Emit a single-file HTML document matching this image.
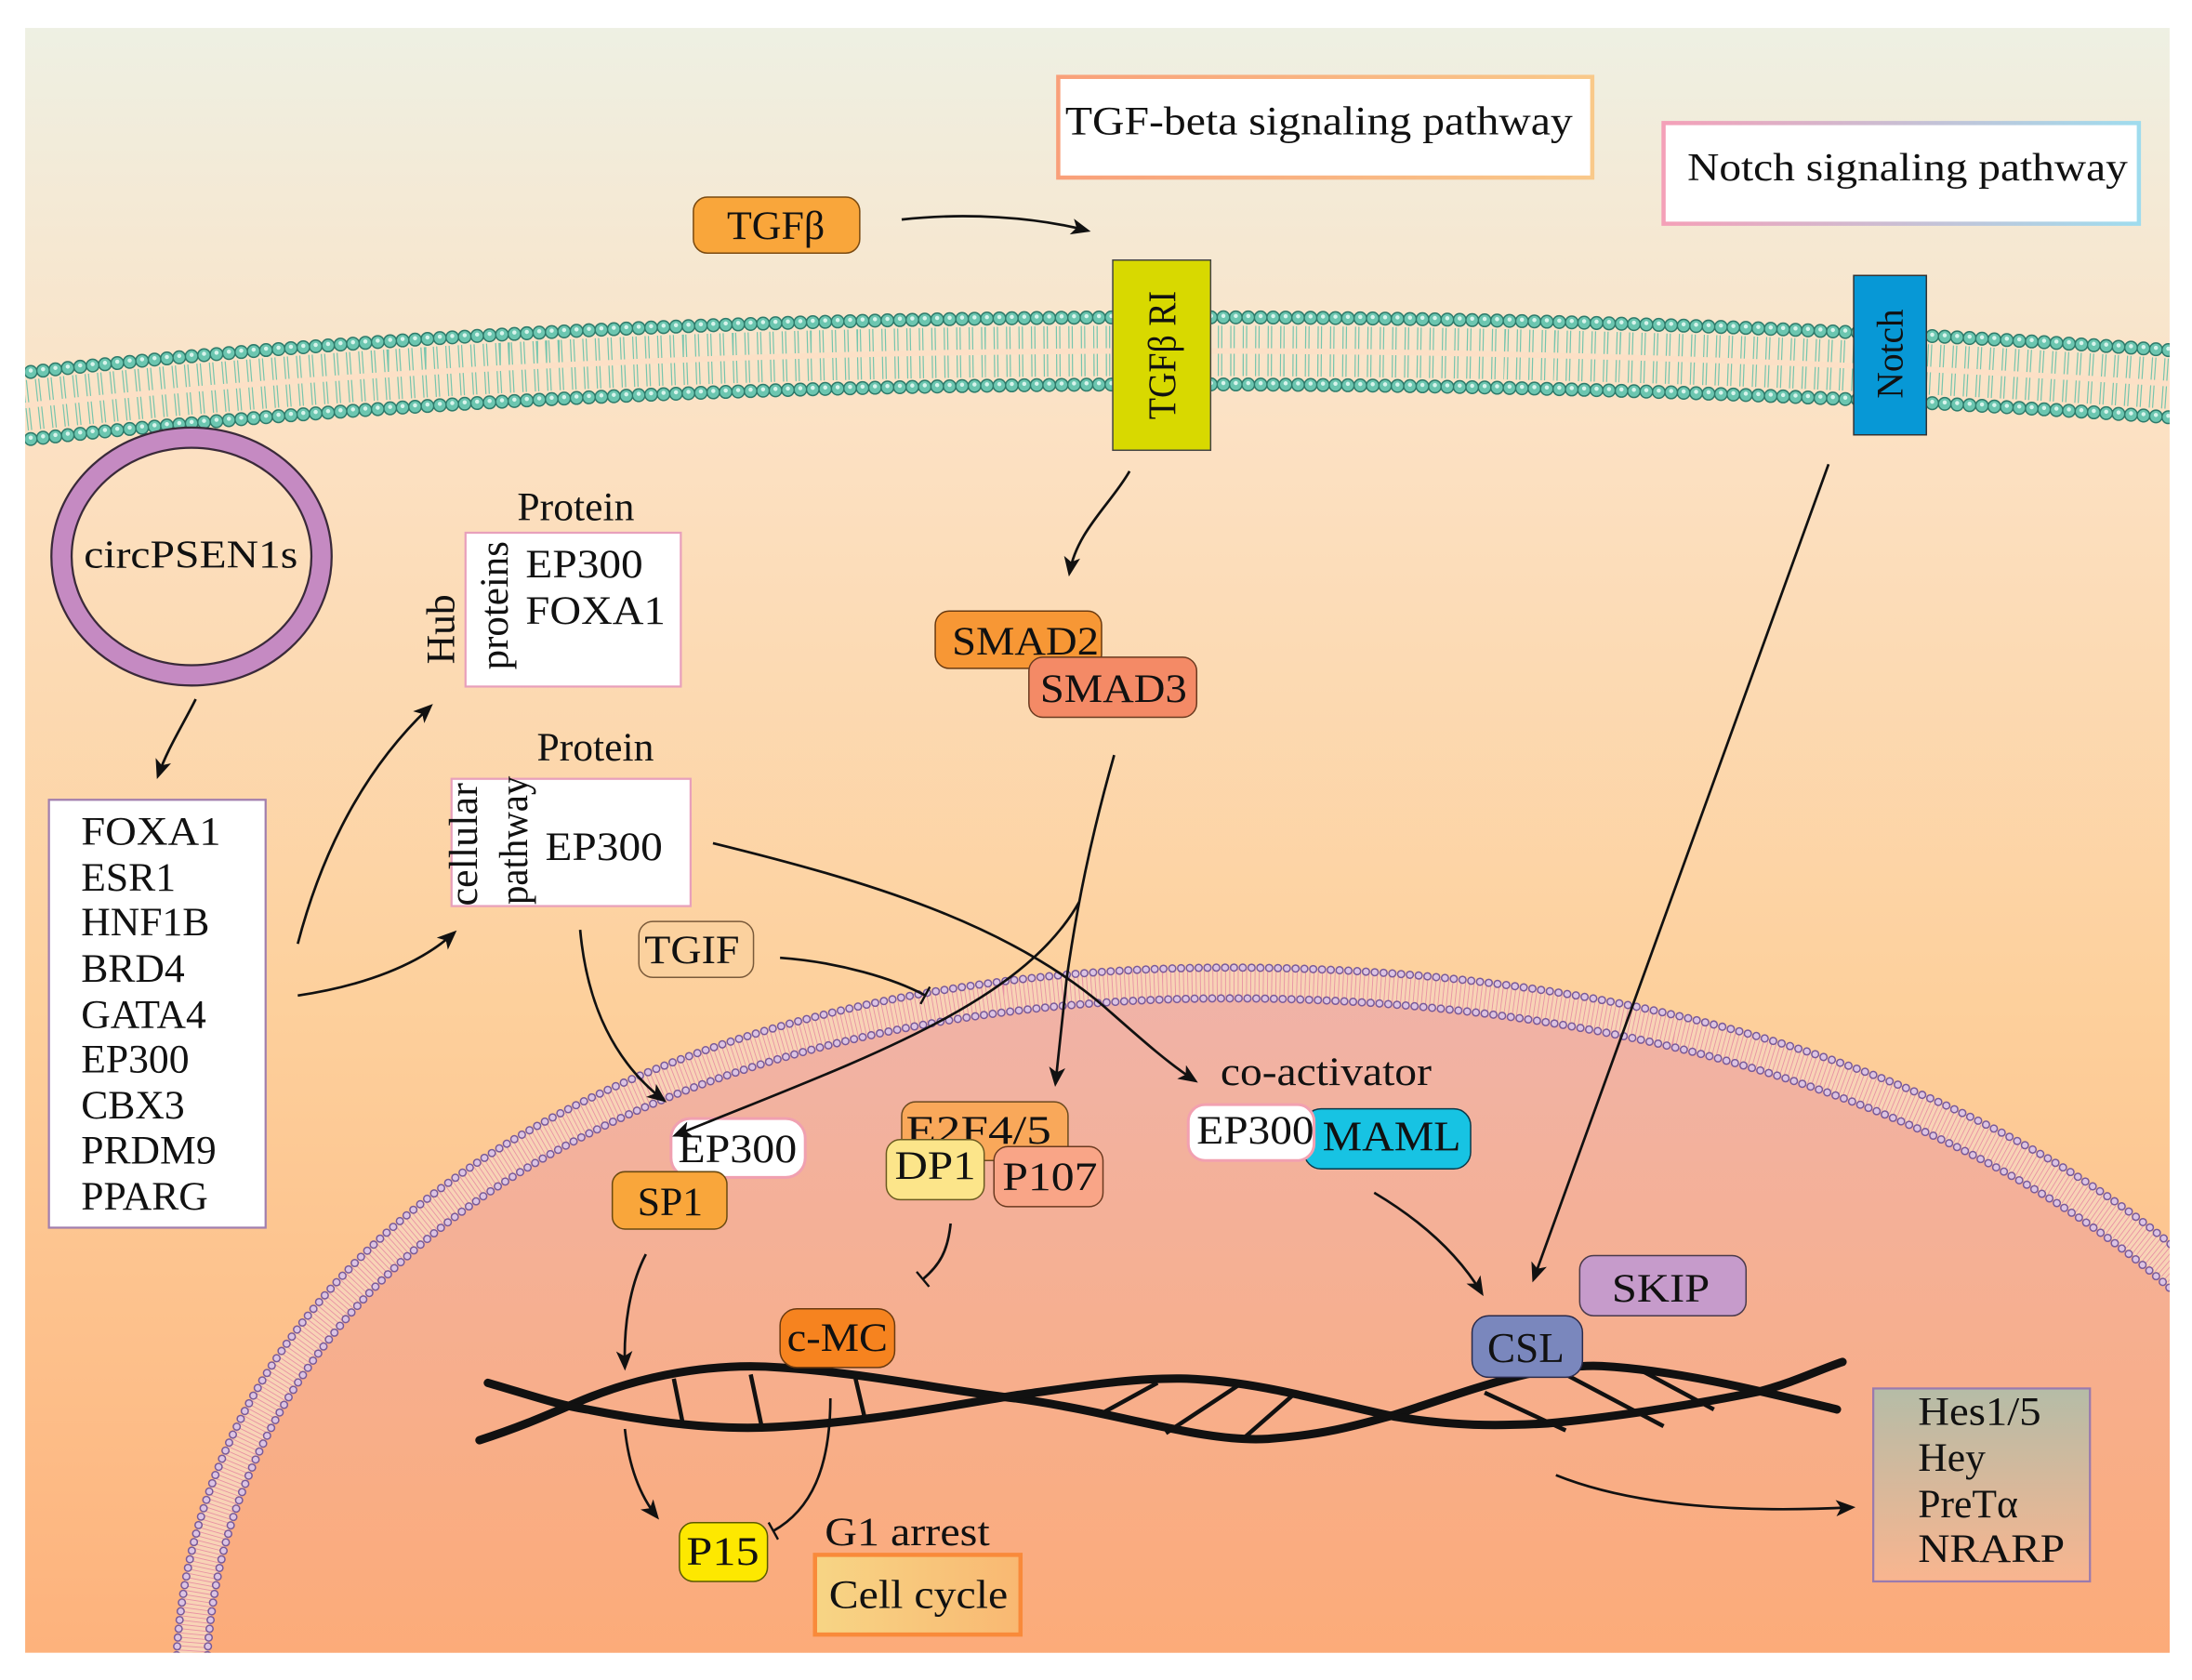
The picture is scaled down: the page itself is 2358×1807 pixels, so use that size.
<!DOCTYPE html>
<html><head><meta charset="utf-8">
<style>
html,body{margin:0;padding:0;background:#fff;}
svg{display:block;}
text{font-family:"Liberation Serif",serif;fill:#111;}
</style></head>
<body>
<svg width="2358" height="1807" viewBox="0 0 1568 1201.5" preserveAspectRatio="none" xmlns="http://www.w3.org/2000/svg">
<defs>
<clipPath id="panel"><rect x="18" y="20" width="1534" height="1162"/></clipPath>
<linearGradient id="bg" x1="0" y1="0" x2="0" y2="1">
<stop offset="0" stop-color="#eef0e3"/>
<stop offset="0.25" stop-color="#fce1c3"/>
<stop offset="0.6" stop-color="#fdd09c"/>
<stop offset="1" stop-color="#fdb27c"/>
</linearGradient>
<linearGradient id="nuc" x1="0" y1="0" x2="0" y2="1">
<stop offset="0" stop-color="#f0b3a8"/>
<stop offset="1" stop-color="#fcab78"/>
</linearGradient>
<linearGradient id="tgfb" x1="0" y1="0" x2="1" y2="0">
<stop offset="0" stop-color="#f9a07a"/><stop offset="1" stop-color="#f9c98a"/>
</linearGradient>
<linearGradient id="notb" x1="0" y1="0" x2="1" y2="0">
<stop offset="0" stop-color="#f4a0b8"/><stop offset="1" stop-color="#9fdcee"/>
</linearGradient>
<linearGradient id="hes" x1="0" y1="0" x2="0" y2="1">
<stop offset="0" stop-color="#b5bca7"/><stop offset="1" stop-color="#f9b58f"/>
</linearGradient>
<linearGradient id="cc" x1="0" y1="0" x2="1" y2="0">
<stop offset="0" stop-color="#f7d585"/><stop offset="1" stop-color="#f9b872"/>
</linearGradient>
<marker id="ar" viewBox="0 0 12 10" refX="10" refY="5" markerWidth="14" markerHeight="12" markerUnits="userSpaceOnUse" orient="auto">
<path d="M0,0 L12,5 L0,10 L3,5 Z" fill="#111"/>
</marker>
<marker id="bar" viewBox="0 0 4 14" refX="2" refY="7" markerWidth="4" markerHeight="14" markerUnits="userSpaceOnUse" orient="auto">
<rect x="1" y="0" width="1.6" height="14" fill="#111"/>
</marker>
</defs>

<rect x="18" y="20" width="1534" height="1162" fill="url(#bg)"/>

<g clip-path="url(#panel)">
<!-- cell membrane -->
<g fill="none">
<path d="M18,290 C500,238 1100,243 1560,275" stroke="#5fbfa8" stroke-width="36" stroke-dasharray="0.8 1.6 0.8 5.7" opacity="0.85"/>
<path d="M18,290 C500,238 1100,243 1560,275" stroke="#fce0c6" stroke-width="4"/>
<g transform="translate(0,-24)">
<path d="M22,290 C500,238 1100,243 1560,275" stroke="#2d7a6a" stroke-width="10" stroke-linecap="round" stroke-dasharray="0 8.9"/>
<path d="M22,290 C500,238 1100,243 1560,275" stroke="#6cc6b0" stroke-width="8" stroke-linecap="round" stroke-dasharray="0 8.9"/>
<path d="M22,289 C500,237 1100,242 1560,274" stroke="#d8f4ec" stroke-width="3" stroke-linecap="round" stroke-dasharray="0 8.9"/>
</g>
<g transform="translate(0,24)">
<path d="M22,290 C500,238 1100,243 1560,275" stroke="#2d7a6a" stroke-width="10" stroke-linecap="round" stroke-dasharray="0 8.9"/>
<path d="M22,290 C500,238 1100,243 1560,275" stroke="#6cc6b0" stroke-width="8" stroke-linecap="round" stroke-dasharray="0 8.9"/>
<path d="M22,289 C500,237 1100,242 1560,274" stroke="#d8f4ec" stroke-width="3" stroke-linecap="round" stroke-dasharray="0 8.9"/>
</g>
</g>

<!-- nucleus -->
<path d="M137,1190 C150,900 450,703 880,703 C1150,703 1400,770 1560,912 L1560,1190 Z" fill="url(#nuc)"/>
<g fill="none">
<path d="M137,1190 C150,900 450,703 880,703 C1150,703 1400,770 1560,912" stroke="#f8d3b6" stroke-width="22"/>
<path d="M137,1190 C150,900 450,703 880,703 C1150,703 1400,770 1560,912" stroke="#e892a4" stroke-width="20" stroke-dasharray="0.6 2.4"/>
<path d="M126,1190 C139,892 445,692 880,692 C1152,692 1405,759 1567,902" stroke="#7a5a98" stroke-width="6" stroke-linecap="round" stroke-dasharray="0 6.3"/>
<path d="M126,1190 C139,892 445,692 880,692 C1152,692 1405,759 1567,902" stroke="#dcc4e4" stroke-width="4" stroke-linecap="round" stroke-dasharray="0 6.3"/>
<path d="M148,1190 C161,908 455,714 880,714 C1148,714 1395,781 1553,922" stroke="#7a5a98" stroke-width="6" stroke-linecap="round" stroke-dasharray="0 6.3"/>
<path d="M148,1190 C161,908 455,714 880,714 C1148,714 1395,781 1553,922" stroke="#dcc4e4" stroke-width="4" stroke-linecap="round" stroke-dasharray="0 6.3"/>
</g>
</g>

<!-- pathway boxes -->
<rect x="757" y="55" width="382" height="72" fill="#fff" stroke="url(#tgfb)" stroke-width="3"/>
<text x="762" y="96" font-size="29" textLength="363" lengthAdjust="spacingAndGlyphs">TGF-beta signaling pathway</text>
<rect x="1190" y="88" width="340" height="72" fill="#fff" stroke="url(#notb)" stroke-width="3"/>
<text x="1207" y="129" font-size="28" textLength="315" lengthAdjust="spacingAndGlyphs">Notch signaling pathway</text>

<rect x="496" y="141" width="119" height="40" rx="10" fill="#f9a63b" stroke="#7a4a10" stroke-width="1"/>
<text x="520" y="171" font-size="29" textLength="70" lengthAdjust="spacingAndGlyphs">TGFβ</text>

<rect x="796" y="186" width="70" height="136" fill="#d8d900" stroke="#444" stroke-width="1"/>
<text transform="translate(841,300) rotate(-90)" font-size="28" textLength="92" lengthAdjust="spacingAndGlyphs">TGFβ RI</text>
<rect x="1326" y="197" width="52" height="114" fill="#0798d6" stroke="#333" stroke-width="1"/>
<text transform="translate(1361,285) rotate(-90)" font-size="27" textLength="64" lengthAdjust="spacingAndGlyphs">Notch</text>

<!-- circ -->
<ellipse cx="137" cy="398" rx="93" ry="85" fill="none" stroke="#3a2a3a" stroke-width="16"/>
<ellipse cx="137" cy="398" rx="93" ry="85" fill="none" stroke="#c58ac2" stroke-width="13"/>
<text x="60" y="406" font-size="28" textLength="153" lengthAdjust="spacingAndGlyphs">circPSEN1s</text>

<!-- gene list -->
<rect x="35" y="572" width="155" height="306" fill="#fff" stroke="#a27fae" stroke-width="1.5"/>
<g font-size="29">
<text x="58" y="604" textLength="100" lengthAdjust="spacingAndGlyphs">FOXA1</text>
<text x="58" y="637">ESR1</text>
<text x="58" y="669">HNF1B</text>
<text x="58" y="702">BRD4</text>
<text x="58" y="735">GATA4</text>
<text x="58" y="767">EP300</text>
<text x="58" y="800">CBX3</text>
<text x="58" y="832">PRDM9</text>
<text x="58" y="865">PPARG</text>
</g>

<!-- hub proteins -->
<text x="370" y="372" font-size="29">Protein</text>
<rect x="333" y="381" width="154" height="110" fill="#fff" stroke="#e8a0bb" stroke-width="1.5"/>
<text transform="translate(325,475) rotate(-90)" font-size="29">Hub</text>
<text transform="translate(363,479) rotate(-90)" font-size="29" textLength="92" lengthAdjust="spacingAndGlyphs">proteins</text>
<text x="376" y="413" font-size="29" textLength="84" lengthAdjust="spacingAndGlyphs">EP300</text>
<text x="376" y="446" font-size="29" textLength="100" lengthAdjust="spacingAndGlyphs">FOXA1</text>

<text x="384" y="544" font-size="29">Protein</text>
<rect x="323" y="557" width="171" height="91" fill="#fff" stroke="#e8a0bb" stroke-width="1.5"/>
<text transform="translate(341,648) rotate(-90)" font-size="29" textLength="88" lengthAdjust="spacingAndGlyphs">cellular</text>
<text transform="translate(377,647) rotate(-90)" font-size="29" textLength="92" lengthAdjust="spacingAndGlyphs">pathway</text>
<text x="390" y="615" font-size="29" textLength="84" lengthAdjust="spacingAndGlyphs">EP300</text>

<rect x="457" y="659" width="82" height="40" rx="10" fill="#fbd19e" stroke="#7a5a3a" stroke-width="1"/>
<text x="461" y="689" font-size="29" textLength="68" lengthAdjust="spacingAndGlyphs">TGIF</text>

<!-- SMADs -->
<rect x="669" y="437" width="119" height="41" rx="10" fill="#f79735" stroke="#6a3a10" stroke-width="1"/>
<text x="681" y="468" font-size="29" textLength="105" lengthAdjust="spacingAndGlyphs">SMAD2</text>
<rect x="736" y="470" width="120" height="43" rx="10" fill="#f48a66" stroke="#6a3a20" stroke-width="1"/>
<text x="744" y="502" font-size="29" textLength="105" lengthAdjust="spacingAndGlyphs">SMAD3</text>

<!-- DNA -->
<g fill="none" stroke="#111" stroke-width="6" stroke-linecap="round">
<path d="M343,1030 C380,1018 400,1008 420,1000 C470,980 520,975 558,978 C620,982 680,995 726,1000 C800,1010 860,1032 907,1029 C950,1026 975,1018 997,1012 C1050,995 1100,975 1146,977 C1200,980 1260,995 1314,1008"/>
<path d="M349,989 C380,998 400,1005 420,1008 C470,1018 510,1022 545,1021 C620,1018 680,1005 726,998 C770,992 810,985 849,986 C900,988 950,1003 997,1013 C1040,1020 1070,1020 1107,1018 C1160,1013 1220,1003 1259,995 C1285,988 1300,980 1318,974"/>
</g>
<g stroke="#111" stroke-width="3">
<line x1="482" y1="986" x2="488" y2="1016"/>
<line x1="537" y1="983" x2="545" y2="1021"/>
<line x1="612" y1="986" x2="619" y2="1016"/>
<line x1="786" y1="1012" x2="828" y2="989"/>
<line x1="834" y1="1025" x2="887" y2="990"/>
<line x1="888" y1="1030" x2="928" y2="995"/>
<line x1="1062" y1="996" x2="1120" y2="1023"/>
<line x1="1120" y1="983" x2="1190" y2="1020"/>
<line x1="1170" y1="978" x2="1226" y2="1008"/>
</g>

<!-- nucleus proteins -->
<rect x="480" y="800" width="96" height="42" rx="14" fill="#fff" stroke="#f0a0b0" stroke-width="2"/>
<text x="485" y="831" font-size="29" textLength="85" lengthAdjust="spacingAndGlyphs">EP300</text>
<rect x="438" y="838" width="82" height="41" rx="9" fill="#f9a63b" stroke="#6a4a10" stroke-width="1"/>
<text x="456" y="869" font-size="29">SP1</text>

<rect x="645" y="788" width="119" height="42" rx="10" fill="#f9a85a" stroke="#6a4a20" stroke-width="1"/>
<text x="648" y="818" font-size="29" textLength="104" lengthAdjust="spacingAndGlyphs">E2F4/5</text>
<rect x="711" y="820" width="78" height="43" rx="10" fill="#f9a587" stroke="#6a3a20" stroke-width="1"/>
<text x="717" y="851" font-size="29" textLength="68" lengthAdjust="spacingAndGlyphs">P107</text>
<rect x="634" y="815" width="70" height="43" rx="10" fill="#fce58a" stroke="#6a5a20" stroke-width="1"/>
<text x="640" y="843" font-size="29" textLength="58" lengthAdjust="spacingAndGlyphs">DP1</text>

<text x="873" y="776" font-size="29" textLength="151" lengthAdjust="spacingAndGlyphs">co-activator</text>
<rect x="933" y="793" width="119" height="43" rx="12" fill="#17c3e3" stroke="#0a3a4a" stroke-width="1"/>
<text x="946" y="823" font-size="30" textLength="99" lengthAdjust="spacingAndGlyphs">MAML</text>
<rect x="850" y="790" width="90" height="40" rx="12" fill="#fff" stroke="#f2a0b0" stroke-width="2"/>
<text x="856" y="818" font-size="29" textLength="84" lengthAdjust="spacingAndGlyphs">EP300</text>

<rect x="1130" y="898" width="119" height="43" rx="10" fill="#c69bcb" stroke="#4a3a4a" stroke-width="1"/>
<text x="1153" y="931" font-size="29" textLength="70" lengthAdjust="spacingAndGlyphs">SKIP</text>
<rect x="1053" y="941" width="79" height="44" rx="12" fill="#7a87bd" stroke="#2a2a4a" stroke-width="1"/>
<text x="1064" y="974" font-size="30" textLength="55" lengthAdjust="spacingAndGlyphs">CSL</text>

<rect x="558" y="936" width="82" height="42" rx="12" fill="#f6831f" stroke="#6a3a10" stroke-width="1"/>
<text x="563" y="966" font-size="29" textLength="72" lengthAdjust="spacingAndGlyphs">c-MC</text>

<rect x="486" y="1089" width="63" height="42" rx="10" fill="#fde800" stroke="#5a5a00" stroke-width="1"/>
<text x="491" y="1119" font-size="29" textLength="52" lengthAdjust="spacingAndGlyphs">P15</text>

<text x="590" y="1105" font-size="29" textLength="118" lengthAdjust="spacingAndGlyphs">G1 arrest</text>
<rect x="583" y="1112" width="147" height="57" fill="url(#cc)" stroke="#f98a3a" stroke-width="3"/>
<text x="593" y="1150" font-size="29" textLength="128" lengthAdjust="spacingAndGlyphs">Cell cycle</text>

<rect x="1340" y="993" width="155" height="138" fill="url(#hes)" stroke="#9a7aae" stroke-width="1.5"/>
<g font-size="29">
<text x="1372" y="1019" textLength="88" lengthAdjust="spacingAndGlyphs">Hes1/5</text>
<text x="1372" y="1052">Hey</text>
<text x="1372" y="1085">PreTα</text>
<text x="1372" y="1117" textLength="105" lengthAdjust="spacingAndGlyphs">NRARP</text>
</g>

<!-- connectors -->
<g fill="none" stroke="#111" stroke-width="1.8">
<path d="M645,157 C690,152 740,155 778,165" marker-end="url(#ar)"/>
<path d="M808,337 C795,360 770,380 765,410" marker-end="url(#ar)"/>
<path d="M140,500 C130,520 120,535 113,555" marker-end="url(#ar)"/>
<path d="M213,675 C230,610 260,550 308,505" marker-end="url(#ar)"/>
<path d="M213,712 C260,705 300,690 325,667" marker-end="url(#ar)"/>
<path d="M510,603 C620,630 720,660 790,720 C815,742 835,760 855,773" marker-end="url(#ar)"/>
<path d="M415,665 C420,720 440,760 475,787" marker-end="url(#ar)"/>
<path d="M558,685 C600,688 640,700 662,712" marker-end="url(#bar)"/>
<path d="M797,540 C780,600 770,650 763,700 L755,775" marker-end="url(#ar)"/>
<path d="M772,645 C730,720 610,760 483,812" marker-end="url(#ar)"/>
<path d="M1308,332 L1097,915" marker-end="url(#ar)"/>
<path d="M983,853 C1020,875 1045,900 1060,925" marker-end="url(#ar)"/>
<path d="M680,875 C678,895 672,905 660,915" marker-end="url(#bar)"/>
<path d="M462,897 C450,920 446,950 447,978" marker-end="url(#ar)"/>
<path d="M447,1022 C450,1050 458,1070 470,1085" marker-end="url(#ar)"/>
<path d="M594,1000 C594,1050 580,1080 553,1095" marker-end="url(#bar)"/>
<path d="M1113,1055 C1170,1078 1250,1082 1325,1078" marker-end="url(#ar)"/>
</g>
</svg>
</body></html>
